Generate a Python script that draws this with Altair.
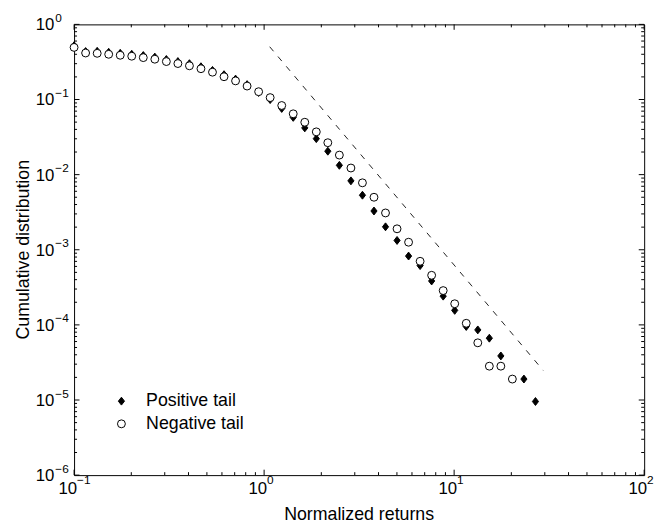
import altair as alt
import pandas as pd

# ---------------- data ----------------
X_BINS = [0.1, 0.115, 0.1323, 0.1521, 0.1749, 0.2011, 0.2313, 0.266, 0.3059, 0.3518,
          0.4046, 0.4652, 0.535, 0.6153, 0.7076, 0.8137, 0.9358, 1.076, 1.238, 1.423,
          1.637, 1.882, 2.164, 2.489, 2.863, 3.292, 3.786, 4.354, 5.007, 5.758,
          6.621, 7.614, 8.757, 10.07, 11.58, 13.32, 15.32, 17.61, 20.25, 23.29, 26.79]

POS_X = X_BINS[:38] + X_BINS[39:41]
POS_Y = [0.52, 0.435, 0.438, 0.425, 0.412, 0.40, 0.385, 0.367, 0.341, 0.320,
         0.300, 0.273, 0.244, 0.214, 0.187, 0.158, 0.124, 0.0997, 0.0760, 0.0578,
         0.0419, 0.0301, 0.0205, 0.0133, 0.00826, 0.00532, 0.00328, 0.00202, 0.00133, 0.000824,
         0.000615, 0.000384, 0.000241, 0.000156, 0.0000952, 0.0000857, 0.0000665, 0.0000386,
         0.0000190, 0.00000955]

NEG_X = X_BINS[:39]
NEG_Y = [0.494, 0.416, 0.412, 0.400, 0.388, 0.377, 0.361, 0.344, 0.320, 0.301,
         0.281, 0.257, 0.231, 0.201, 0.177, 0.151, 0.127, 0.106, 0.0832, 0.0645,
         0.0498, 0.0371, 0.0266, 0.0182, 0.01225, 0.00778, 0.00500, 0.00309, 0.00190, 0.00126,
         0.000702, 0.000457, 0.000286, 0.000191, 0.000105, 0.0000577, 0.0000282, 0.0000282,
         0.0000190]

LINE_X = [1.07, 29.4]
LINE_Y = [0.504, 0.0000248]

SERIES = ["Positive tail", "Negative tail"]
X_TITLE = "Normalized returns"
Y_TITLE = "Cumulative distribution"

X_MAJOR = [0.1, 1, 10, 100]
X_EXP = ["\u22121", "0", "1", "2"]
Y_MAJOR = [1e-6, 1e-5, 1e-4, 1e-3, 1e-2, 1e-1, 1]
Y_EXP = ["\u22126", "\u22125", "\u22124", "\u22123", "\u22122", "\u22121", "0"]
X_MINOR = [m * d for d in [0.1, 1, 10] for m in range(2, 10)]
Y_MINOR = [m * d for d in [1e-6, 1e-5, 1e-4, 1e-3, 1e-2, 1e-1] for m in range(2, 10)]

# ---------------- styling ----------------
W, H = 578, 457
FONT = "Liberation Sans"
MAJ, MIN = 5.5, 3
DIAMOND = "M0,-1L0.78,0L0,1L-0.78,0Z"

xs = alt.Scale(type="log", domain=[0.1, 100], nice=False)
ys = alt.Scale(type="log", domain=[1e-6, 1], nice=False)

pts = pd.DataFrame({
    "x": POS_X + NEG_X,
    "y": POS_Y + NEG_Y,
    "series": [SERIES[0]] * len(POS_X) + [SERIES[1]] * len(NEG_X),
})

legend = alt.Legend(
    title=None, orient="none", legendX=39, legendY=373, padding=0,
    labelFont=FONT, labelFontSize=18, labelColor="black", labelOffset=16,
    rowPadding=5, symbolSize=64, symbolStrokeWidth=1,
)

points = alt.Chart(pts).mark_point(
    filled=True, strokeWidth=1, size=64, opacity=1
).encode(
    x=alt.X("x:Q", scale=xs, axis=None),
    y=alt.Y("y:Q", scale=ys, axis=None),
    shape=alt.Shape("series:N", scale=alt.Scale(domain=SERIES, range=[DIAMOND, "circle"]), legend=legend),
    fill=alt.Fill("series:N", scale=alt.Scale(domain=SERIES, range=["black", "white"]), legend=legend),
    stroke=alt.Stroke("series:N", scale=alt.Scale(domain=SERIES, range=["black", "black"]), legend=legend),
)

line_df = pd.DataFrame({"x": LINE_X, "y": LINE_Y})
dashed = alt.Chart(line_df).mark_line(color="#222", strokeWidth=1, strokeDash=[6, 7]).encode(
    x=alt.X("x:Q", scale=xs, axis=None),
    y=alt.Y("y:Q", scale=ys, axis=None),
)


def tick_layer(vals, channel, side, length):
    df = pd.DataFrame({"v": vals})
    if channel == "x":
        enc = {"x": alt.X("v:Q", scale=xs, axis=None)}
        if side == "bottom":
            enc.update(y=alt.value(H), y2=alt.value(H - length))
        else:
            enc.update(y=alt.value(0), y2=alt.value(length))
    else:
        enc = {"y": alt.Y("v:Q", scale=ys, axis=None)}
        if side == "left":
            enc.update(x=alt.value(0), x2=alt.value(length))
        else:
            enc.update(x=alt.value(W), x2=alt.value(W - length))
    return alt.Chart(df).mark_rule(color="black", strokeWidth=1).encode(**enc)


ticks = []
for side in ["bottom", "top"]:
    ticks.append(tick_layer(X_MAJOR, "x", side, MAJ))
    ticks.append(tick_layer(X_MINOR, "x", side, MIN))
for side in ["left", "right"]:
    ticks.append(tick_layer(Y_MAJOR, "y", side, MAJ))
    ticks.append(tick_layer(Y_MINOR, "y", side, MIN))

xl = pd.DataFrame({"v": X_MAJOR, "e": X_EXP})
yl = pd.DataFrame({"v": Y_MAJOR, "e": Y_EXP})

x_base = alt.Chart(xl).mark_text(text="10", align="right", baseline="alphabetic", dx=3,
                                 font=FONT, fontSize=17, color="black").encode(
    x=alt.X("v:Q", scale=xs, axis=None), y=alt.value(H + 19))
x_exp = alt.Chart(xl).mark_text(align="left", baseline="alphabetic", dx=3,
                                font=FONT, fontSize=12, color="black").encode(
    x=alt.X("v:Q", scale=xs, axis=None), y=alt.value(H + 9), text="e:N")
y_base = alt.Chart(yl).mark_text(text="10", align="right", baseline="alphabetic", dy=6,
                                 font=FONT, fontSize=17, color="black").encode(
    y=alt.Y("v:Q", scale=ys, axis=None), x=alt.value(-20))
y_exp = alt.Chart(yl).mark_text(align="left", baseline="alphabetic", dy=-2.5,
                                font=FONT, fontSize=12, color="black").encode(
    y=alt.Y("v:Q", scale=ys, axis=None), x=alt.value(-19), text="e:N")

x_title = alt.Chart(pd.DataFrame({"t": [X_TITLE]})).mark_text(
    align="center", baseline="alphabetic", font=FONT, fontSize=18, color="black"
).encode(x=alt.value(W / 2), y=alt.value(H + 45.5), text="t:N")
y_title = alt.Chart(pd.DataFrame({"t": [Y_TITLE]})).mark_text(
    align="center", baseline="alphabetic", angle=270, font=FONT, fontSize=18, color="black"
).encode(x=alt.value(-46), y=alt.value(H / 2), text="t:N")

chart = alt.layer(*ticks, dashed, points, x_base, x_exp, y_base, y_exp, x_title, y_title).properties(
    width=W, height=H,
    autosize=alt.AutoSizeParams(type="none"),
    padding={"left": 67, "top": 13, "right": 12, "bottom": 50},
    background="white",
).configure_view(stroke="black", strokeWidth=1)

chart.save("out.html", embed_options={"renderer": "svg", "actions": False})
